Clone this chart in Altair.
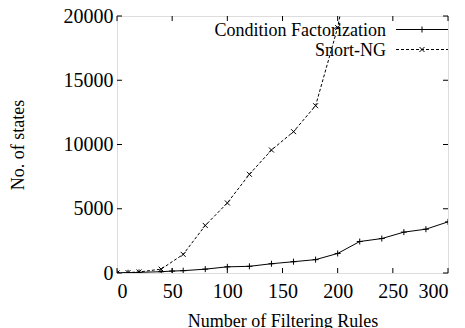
import altair as alt
import pandas as pd

# ---- data ----
cf_x = [0, 10, 20, 40, 50, 60, 80, 100, 120, 140, 160, 180, 200, 220, 240, 260, 280, 300]
cf_y = [0, 20, 50, 100, 150, 180, 300, 480, 520, 720, 880, 1040, 1520, 2450, 2680, 3180, 3410, 3980]

sn_x = [0, 10, 20, 40, 60, 80, 100, 120, 140, 160, 180, 200, 220]
sn_y = [0, 30, 80, 300, 1450, 3700, 5450, 7680, 9570, 11000, 13020, 19100, 28000]

series_names = ["Condition Factorization", "Snort-NG"]
x_ticks = [0, 50, 100, 150, 200, 250, 300]
y_ticks = [0, 5000, 10000, 15000, 20000]

W, H = 331, 257
FONT = "Liberation Serif"
PLUS = "M-1,0L1,0M0,-1L0,1"
CROSS = "M-1,-1L1,1M-1,1L1,-1"

cf = pd.DataFrame({"x": cf_x, "y": cf_y})
sn = pd.DataFrame({"x": sn_x, "y": sn_y})
xt = pd.DataFrame({"t": x_ticks})
yt = pd.DataFrame({"t": y_ticks})

xscale = alt.Scale(domain=[0, 300], nice=False, zero=False)
yscale = alt.Scale(domain=[0, 20000], nice=False)

xaxis = alt.Axis(values=x_ticks, format="d", title="Number of Filtering Rules", grid=False,
                 ticks=False, domain=False, labelPadding=8, labelFontSize=20,
                 labelFont=FONT, titleFont=FONT, labelColor="black", titleColor="black",
                 titleFontSize=18, titleFontWeight="normal", titleBaseline="alphabetic",
                 titleY=53, titleX=W / 2, titleAlign="center")
yaxis = alt.Axis(values=y_ticks, format="d", title="No. of states", grid=False,
                 ticks=False, domain=False, labelPadding=4, labelFontSize=20,
                 labelFont=FONT, titleFont=FONT, labelColor="black", titleColor="black",
                 titleFontSize=18, titleFontWeight="normal", titleAngle=270,
                 titleX=-99, titleY=H / 2, titleAlign="center", titleBaseline="middle")

X = alt.X("x:Q", scale=xscale, axis=xaxis)
Y = alt.Y("y:Q", scale=yscale, axis=yaxis)

cf_line = alt.Chart(cf).mark_line(color="black", strokeWidth=1, clip=True).encode(x=X, y=Y)
cf_pts = alt.Chart(cf).mark_point(shape=PLUS, filled=False, color="black", strokeWidth=1,
                                  size=36, opacity=1, clip=True).encode(x="x:Q", y="y:Q")
sn_line = alt.Chart(sn).mark_line(color="black", strokeWidth=1, strokeDash=[3, 2],
                                  clip=True).encode(x="x:Q", y="y:Q")
sn_pts = alt.Chart(sn).mark_point(shape=CROSS, filled=False, color="black", strokeWidth=1,
                                  size=25, opacity=1, clip=True).encode(x="x:Q", y="y:Q")

# inward ticks on all four sides (gnuplot style)
TL = 5
xt_bot = alt.Chart(xt).mark_rule(color="black", strokeWidth=1).encode(
    x="t:Q", y=alt.value(H), y2=alt.value(H - TL))
xt_top = alt.Chart(xt).mark_rule(color="black", strokeWidth=1).encode(
    x="t:Q", y=alt.value(0), y2=alt.value(TL))
yt_left = alt.Chart(yt).mark_rule(color="black", strokeWidth=1).encode(
    y="t:Q", x=alt.value(0), x2=alt.value(TL))
yt_right = alt.Chart(yt).mark_rule(color="black", strokeWidth=1).encode(
    y="t:Q", x=alt.value(W), x2=alt.value(W - TL))

# legend (inside, top right)
rows = [13.5, 33.5]
leg_layers = []
for name, ry, dash, shape, sz in [
    (series_names[0], rows[0], [1, 0], PLUS, 36),
    (series_names[1], rows[1], [3, 2], CROSS, 25),
]:
    d = pd.DataFrame({"name": [name]})
    leg_layers.append(alt.Chart(d).mark_text(font=FONT, fontSize=18, align="right",
                                             baseline="middle", color="black").encode(
        text="name:N", x=alt.value(269), y=alt.value(ry + 1)))
    leg_layers.append(alt.Chart(d).mark_rule(color="black", strokeWidth=1, strokeDash=dash).encode(
        x=alt.value(279), x2=alt.value(W), y=alt.value(ry)))
    leg_layers.append(alt.Chart(d).mark_point(shape=shape, filled=False, color="black",
                                              strokeWidth=1, size=sz, opacity=1).encode(
        x=alt.value(305), y=alt.value(ry)))

chart = alt.layer(
    cf_line, sn_line, cf_pts, sn_pts, xt_bot, xt_top, yt_left, yt_right, *leg_layers
).resolve_scale(x="shared", y="shared").properties(
    width=W, height=H,
    padding={"left": 109, "top": 8, "right": 9, "bottom": 60},
    autosize=alt.AutoSizeParams(type="none"),
).configure_view(stroke="black", strokeWidth=1).configure(background="white")

chart.save("out.html", embed_options={"renderer": "svg", "actions": False})
